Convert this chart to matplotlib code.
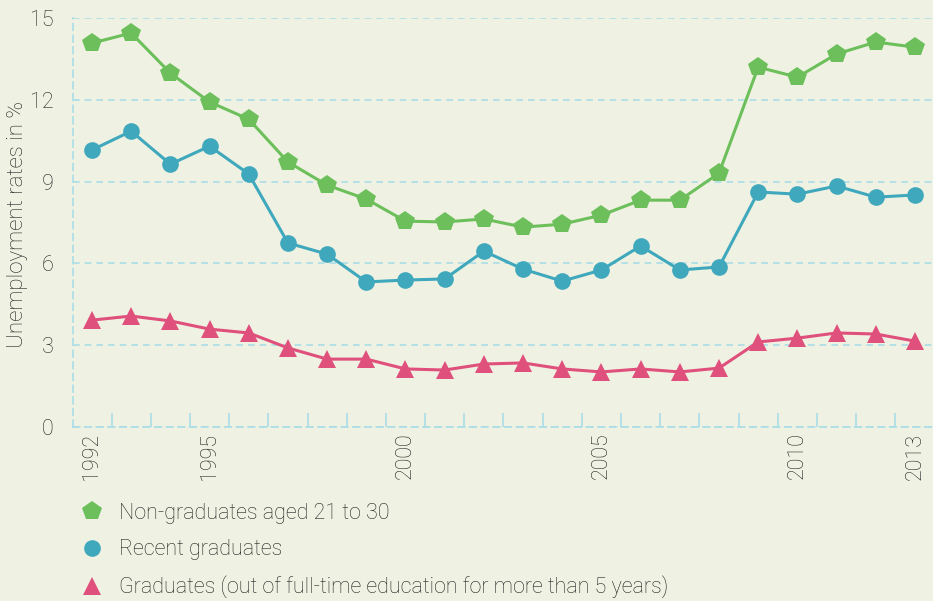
import numpy as np
import matplotlib.pyplot as plt
from matplotlib.lines import Line2D

plt.rcParams['font.family'] = ['Roboto', 'DejaVu Sans']
plt.rcParams['font.weight'] = 'light'

years = list(range(1992, 2014))
non_grads = [14.08, 14.45, 12.98, 11.92, 11.29, 9.72, 8.87, 8.36, 7.55, 7.52, 7.63,
             7.33, 7.44, 7.77, 8.32, 8.32, 9.31, 13.2, 12.83, 13.68, 14.12, 13.93]
recent_grads = [10.16, 10.85, 9.64, 10.3, 9.28, 6.75, 6.34, 5.32, 5.39, 5.43, 6.45,
                5.79, 5.35, 5.76, 6.64, 5.76, 5.87, 8.62, 8.54, 8.84, 8.43, 8.51]
grads = [3.92, 4.07, 3.89, 3.59, 3.45, 2.9, 2.49, 2.49, 2.13, 2.09, 2.31,
         2.35, 2.13, 2.02, 2.13, 2.02, 2.16, 3.12, 3.26, 3.45, 3.41, 3.15]
labels = ["Non-graduates aged 21 to 30", "Recent graduates",
          "Graduates (out of full-time education for more than 5 years)"]
label_years = [1992, 1995, 2000, 2005, 2010, 2013]
y_ticks = [0, 3, 6, 9, 12, 15]

bg = '#eff2e2'
grid_c = '#aadde8'
txt = '#222222'
green, blue, pink = '#6cbf5b', '#3fa8bd', '#e0507c'

fig = plt.figure(figsize=(9.33, 6.01), dpi=100, facecolor=bg)
ax = fig.add_axes([0.0782, 0.2895, 0.9218, 0.6805])
ax.set_facecolor(bg)

series = [(non_grads, green, 'p', 15), (recent_grads, blue, 'o', 12), (grads, pink, '^', 13)]
for vals, col, mk, ms in series:
    ax.plot(years, vals, color=col, lw=2.2, marker=mk, markersize=ms,
            markeredgewidth=0, zorder=3)

ax.set_xlim(1991.515, 2013.46)
ax.set_ylim(0, 15)
ax.set_yticks(y_ticks)
ax.set_yticklabels([str(v) for v in y_ticks])
ax.tick_params(axis='y', length=0, pad=14, labelsize=15.5, labelcolor=txt)
ax.yaxis.grid(True, color=grid_c, ls=(0, (4, 3)), lw=1.2)
ax.set_axisbelow(True)

# ticks sit between years, labels only on a few years
ax.set_xticks([y + 0.5 for y in years[:-1]])
ax.set_xticklabels([])
ax.tick_params(axis='x', which='major', direction='in', length=10, width=1.2, color=grid_c)
ax.set_xticks(label_years, minor=True)
ax.set_xticklabels([str(y) for y in label_years], minor=True, rotation=90)
ax.tick_params(axis='x', which='minor', length=0, pad=4, labelsize=15.5, labelcolor=txt)

for s in ['top', 'right']:
    ax.spines[s].set_visible(False)
for s in ['left', 'bottom']:
    ax.spines[s].set_color(grid_c)
    ax.spines[s].set_linestyle((0, (4, 3)))
    ax.spines[s].set_linewidth(1.2)

fig.text(18 / 933, 1 - 224 / 601, "Unemployment rates in %", rotation=90,
         ha='center', va='center', fontsize=16, color=txt)

handles = [Line2D([], [], color=c, marker=m, markersize=ms, ls='none', markeredgewidth=0)
           for _, c, m, ms in series]
fig.legend(handles, labels, loc='upper left', bbox_to_anchor=(0.075, 0.178),
           frameon=False, fontsize=15.5, labelcolor=txt, handlelength=1.2,
           handletextpad=0.7, labelspacing=0.72, borderaxespad=0)

fig.savefig('out.png', dpi=100, facecolor=bg)
